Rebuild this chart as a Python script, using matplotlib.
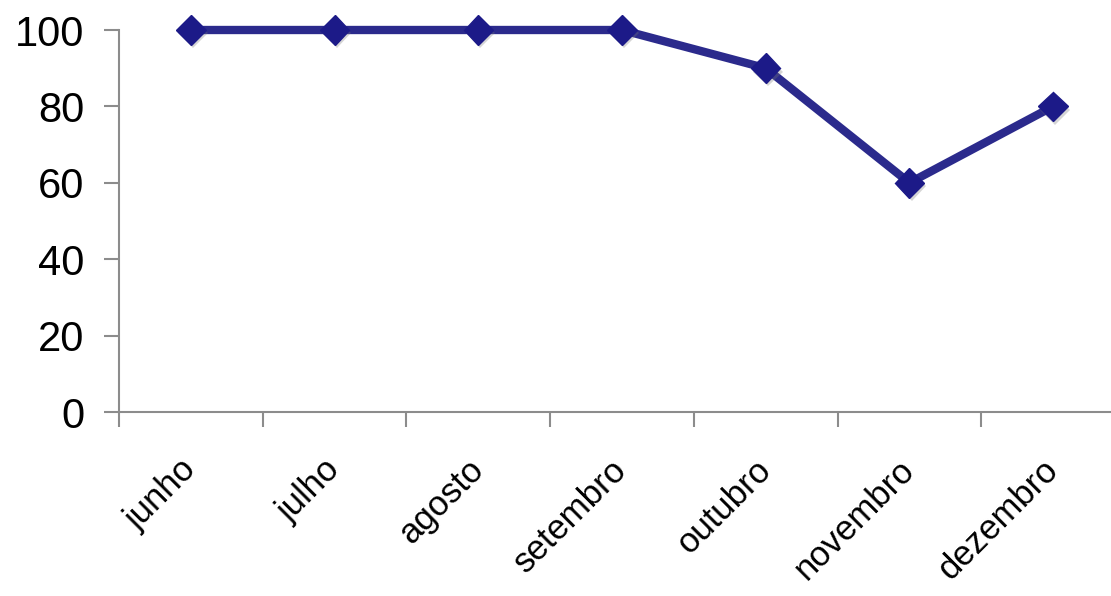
import matplotlib.pyplot as plt
import matplotlib.patheffects as pe

meses = ['junho', 'julho', 'agosto', 'setembro', 'outubro', 'novembro', 'dezembro']
valores = [100, 100, 100, 100, 90, 60, 80]
y_ticks = [0, 20, 40, 60, 80, 100]

plt.rcParams['font.family'] = ['Liberation Sans Narrow', 'Liberation Sans', 'DejaVu Sans']

fig = plt.figure(figsize=(11.11, 5.96), dpi=100)
ax = fig.add_axes([119 / 1111, 184 / 596, 1006 / 1111, 382 / 596])

x = list(range(len(meses)))
ax.plot(x, valores, color='#2B2A8C', linewidth=6, solid_joinstyle='miter',
        zorder=2, clip_on=False)
ax.plot(x, valores, linestyle='none', marker='D', markersize=15,
        color='#1C1A88', zorder=3, clip_on=False,
        path_effects=[pe.SimplePatchShadow(offset=(1.5, -2.5), shadow_rgbFace='#777777', alpha=0.3),
                      pe.Normal()])

ax.set_xlim(-0.5, len(meses) - 0.5)
ax.set_ylim(0, 100)
ax.set_yticks(y_ticks)
ax.set_yticklabels([str(v) for v in y_ticks], fontsize=30)

# ticks nas fronteiras das categorias, rótulos no centro
ax.set_xticks([i - 0.5 for i in range(len(meses) + 1)])
ax.set_xticklabels([])
ax.set_xticks(x, minor=True)
ax.set_xticklabels(meses, minor=True, fontsize=25, rotation=45,
                   ha='right', va='center', rotation_mode='anchor')
ax.tick_params(axis='x', which='minor', length=0, pad=38)
ax.tick_params(axis='x', which='major', length=11, width=1.5, color='#8C8C8C')
ax.tick_params(axis='y', length=11, width=1.5, color='#8C8C8C', pad=14)

for lado in ['top', 'right']:
    ax.spines[lado].set_visible(False)
for lado in ['left', 'bottom']:
    ax.spines[lado].set_color('#8C8C8C')
    ax.spines[lado].set_linewidth(1.5)
ax.spines['left'].set_bounds(0, 100)

fig.savefig('out.png', dpi=100)
